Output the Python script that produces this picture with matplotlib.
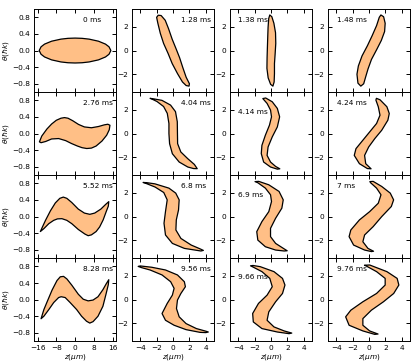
import matplotlib
matplotlib.use("Agg")
import matplotlib.pyplot as plt

# panel labels, row by row
times = [["0 ms", "1.28 ms", "1.38 ms", "1.48 ms"],
         ["2.76 ms", "4.04 ms", "4.14 ms", "4.24 ms"],
         ["5.52 ms", "6.8 ms", "6.9 ms", "7 ms"],
         ["8.28 ms", "9.56 ms", "9.66 ms", "9.76 ms"]]

# outlines (z in um, theta in hbar k), closed loops
z_000 = [-15.3, -14.5, -13, -10, -6, -3, 0, 3, 6, 10, 13, 14.5, 15.3,
         14.5, 13, 10, 6, 3, 0, -3, -6, -10, -13, -14.5]
t_000 = [0, 0.09, 0.155, 0.225, 0.275, 0.294, 0.3, 0.294, 0.275, 0.225, 0.155, 0.09, 0,
         -0.09, -0.155, -0.225, -0.275, -0.294, -0.3, -0.294, -0.275, -0.225, -0.155, -0.09]

z_276 = [-15.2, -14.2, -12, -10, -8, -6, -4.5, -3, -1, 1.5, 4, 7, 10, 12.5, 14, 14.9,
         14.6, 13.5, 11.5, 9, 7, 5, 3, 1, -1.5, -4, -7, -10, -12.5, -14.5]
t_276 = [-0.2, -0.06, 0.11, 0.23, 0.32, 0.37, 0.385, 0.37, 0.31, 0.22, 0.16, 0.14, 0.17, 0.21, 0.225, 0.2,
         0.09, -0.04, -0.18, -0.3, -0.35, -0.36, -0.34, -0.3, -0.24, -0.17, -0.12, -0.13, -0.19, -0.22]

z_552 = [-14.8, -14, -12.6, -10.5, -8.4, -6.5, -5, -3.5, -1.4, 1.4, 4, 6.3, 8.4, 11, 13, 14.4,
         14.2, 13.3, 12, 10.5, 9, 7, 5.6, 4.2, 1.4, -1.4, -3.5, -5.6, -7.5, -9.1, -11.2, -13.3]
t_552 = [-0.36, -0.26, -0.09, 0.14, 0.33, 0.44, 0.47, 0.44, 0.34, 0.18, 0.085, 0.055, 0.085, 0.18, 0.29, 0.36,
         0.25, 0.12, -0.08, -0.25, -0.36, -0.44, -0.46, -0.42, -0.31, -0.17, -0.09, -0.05, -0.055, -0.09, -0.17, -0.29]

z_828 = [-14.5, -13.3, -11.9, -9.8, -7.7, -6.3, -4.9, -3.5, -1.4, 1.4, 3.5, 5.6, 7.7, 9.8, 11.9, 13.3, 14.4,
         14.2, 13.3, 11.9, 9.8, 7.7, 6.3, 4.9, 2.8, 0.7, -2.1, -4.2, -5.9, -7, -9.1, -11.2, -13.3]
t_828 = [-0.46, -0.24, -0.05, 0.23, 0.46, 0.55, 0.56, 0.5, 0.35, 0.13, 0.01, -0.03, -0.01, 0.07, 0.24, 0.38, 0.48,
         0.36, 0.15, -0.16, -0.4, -0.53, -0.565, -0.52, -0.4, -0.24, -0.07, 0.05, 0.07, 0.05, -0.07, -0.24, -0.4]

z_128 = [-1.8, -1.45, -0.95, -0.55, -0.1, 0.4, 0.8, 1.2, 1.6, 2.0, 1.95,
         1.6, 1.15, 0.55, -0.1, -0.6, -1.15, -1.55, -1.85, -2.0]
t_128 = [2.98, 2.95, 2.55, 1.85, 0.95, 0.1, -0.6, -1.45, -2.25, -2.8, -3.0,
         -2.95, -2.65, -1.95, -1.1, -0.25, 0.6, 1.45, 2.3, 2.8]

z_138 = [-0.15, 0.1, 0.35, 0.55, 0.58, 0.5, 0.42, 0.42, 0.38, 0.23,
         -0.05, -0.35, -0.5, -0.48, -0.44, -0.4, -0.36, -0.28]
t_138 = [3.0, 2.85, 2.3, 1.5, 0.6, -0.3, -1.1, -1.95, -2.65, -3.0,
         -2.85, -2.3, -1.5, -0.6, 0.3, 1.15, 1.95, 2.7]

z_148 = [1.45, 1.78, 1.97, 1.9, 1.5, 0.95, 0.3, -0.12, -0.42, -0.65, -1.0,
         -1.35, -1.47, -1.3, -0.85, -0.2, 0.38, 0.92, 1.25]
t_148 = [3.0, 2.85, 2.3, 1.6, 0.85, 0.1, -0.75, -1.55, -2.25, -2.8, -3.0,
         -2.75, -2.0, -1.3, -0.45, 0.4, 1.25, 2.1, 2.8]

z_404 = [-2.8, -2.3, -1.35, -0.3, 0.3, 0.52, 0.54, 0.56, 0.95, 1.8, 2.6, 2.95,
         2.5, 1.8, 0.75, -0.08, -0.42, -0.5, -0.5, -0.7, -1.15, -1.95, -2.6]
t_404 = [2.97, 2.92, 2.8, 2.4, 1.85, 1.0, 0.0, -0.85, -1.55, -2.12, -2.6, -2.96,
         -2.95, -2.82, -2.4, -1.7, -0.85, 0.0, 0.85, 1.7, 2.28, 2.7, 2.92]

z_414 = [-1.0, -0.65, 0.15, 0.77, 1.05, 0.77, 0.15, -0.36, -0.48, -0.06, 0.56, 1.07,
         0.77, -0.06, -0.9, -1.19, -1.11, -0.69, -0.19, 0.06, -0.06, -0.48]
t_414 = [2.95, 3.0, 2.68, 2.12, 1.41, 0.56, -0.28, -1.13, -1.84, -2.4, -2.77, -2.97,
         -3.0, -2.82, -2.4, -1.69, -0.99, -0.14, 0.71, 1.41, 1.98, 2.54]

z_424 = [0.9, 1.34, 2.18, 2.47, 2.3, 1.55, 0.71, -0.04, -0.54, -0.4, 0.25,
         -0.2, -1.17, -1.8, -1.59, -0.75, 0.08, 0.92, 1.34, 1.13, 0.84]
t_424 = [2.97, 2.85, 2.26, 1.69, 1.13, 0.28, -0.42, -1.13, -1.84, -2.54, -2.97,
         -2.95, -2.54, -1.84, -1.27, -0.56, 0.14, 0.85, 1.55, 2.26, 2.82]

z_680 = [-3.65, -3.2, -2.2, -0.5, 0.33, 0.75, 0.67, 0.4, 0.35, 0.96, 2.22, 3.3, 3.7,
         3.4, 1.38, -0.08, -0.92, -1.1, -0.92, -0.71, -1.13, -2.18, -3.3]
t_680 = [2.88, 2.86, 2.76, 2.4, 1.98, 1.41, 0.56, -0.28, -1.13, -1.84, -2.4, -2.72, -2.85,
         -2.9, -2.68, -2.26, -1.55, -0.56, 0.42, 1.41, 2.03, 2.49, 2.8]

z_690 = [-1.95, -1.5, -0.27, 0.98, 1.49, 1.32, 0.56, -0.06, -0.06, 0.56, 1.6, 1.97,
         1.6, 0.56, -0.69, -1.61, -1.74, -1.11, -0.27, 0.06, -0.06, -0.69, -1.6]
t_690 = [2.95, 2.97, 2.68, 2.12, 1.41, 0.71, -0.14, -0.99, -1.69, -2.26, -2.72, -2.88,
         -2.9, -2.82, -2.54, -1.98, -1.27, -0.42, 0.42, 1.27, 1.84, 2.4, 2.85]

z_700 = [0.1, 0.5, 1.55, 2.59, 3.0, 2.72, 1.55, 0.5, -0.54, -0.75, -0.13, 0.55,
         0.3, -0.54, -1.88, -2.43, -2.22, -1.17, 0.08, 1.13, 1.46, 0.92, 0.2]
t_700 = [2.95, 2.97, 2.54, 1.98, 1.41, 0.85, 0.0, -0.85, -1.55, -2.12, -2.68, -2.92,
         -2.95, -2.82, -2.4, -1.69, -1.13, -0.28, 0.42, 1.13, 1.84, 2.4, 2.85]

z_956 = [-4.25, -4.0, -2.6, -0.92, 0.54, 1.38, 1.51, 0.96, 0.54, 0.42, 0.75, 1.59, 2.85, 4.0, 4.3,
         4.0, 3.3, 1.59, 0.13, -0.92, -1.34, -0.71, -0.08, 0.13, -0.29, -1.34, -2.8, -3.85]
t_956 = [2.8, 2.84, 2.73, 2.5, 2.08, 1.51, 1.09, 0.52, -0.04, -0.75, -1.45, -2.02, -2.44, -2.66, -2.73,
         -2.78, -2.76, -2.53, -2.16, -1.74, -1.17, -0.32, 0.38, 0.95, 1.51, 2.08, 2.5, 2.7]

z_966 = [-2.5, -2.2, -1.32, 0.36, 1.4, 1.7, 1.4, 0.56, -0.27, -0.48, 0.36, 1.61, 2.53,
         2.2, 0.77, -1.11, -2.16, -2.24, -1.53, -0.48, 0.15, -0.15, -1.11, -2.2]
t_966 = [2.85, 2.88, 2.78, 2.36, 1.79, 1.23, 0.52, -0.18, -1.03, -1.74, -2.3, -2.64, -2.82,
         -2.87, -2.73, -2.44, -1.88, -1.17, -0.32, 0.38, 1.09, 1.79, 2.36, 2.75]

z_976 = [-0.55, 0.08, 2.18, 3.43, 3.64, 3.01, 1.76, 0.29, -0.75, -0.75, 0.08, 1.1,
         0.7, -0.75, -2.43, -2.85, -2.22, -0.75, 0.92, 1.97, 1.97, 0.92, -0.3]
t_976 = [2.9, 2.92, 2.36, 1.79, 1.23, 0.52, -0.18, -0.89, -1.6, -2.16, -2.64, -2.9,
         -2.93, -2.64, -2.16, -1.45, -0.89, -0.18, 0.52, 1.23, 1.79, 2.36, 2.82]

shapes = [[(z_000, t_000), (z_128, t_128), (z_138, t_138), (z_148, t_148)],
          [(z_276, t_276), (z_404, t_404), (z_414, t_414), (z_424, t_424)],
          [(z_552, t_552), (z_680, t_680), (z_690, t_690), (z_700, t_700)],
          [(z_828, t_828), (z_956, t_956), (z_966, t_966), (z_976, t_976)]]

# where each time label starts (axes fraction, left aligned)
label_x = [0.60, 0.60, 0.10, 0.11]
label_y = [[0.87, 0.87, 0.87, 0.87],
           [0.87, 0.87, 0.76, 0.87],
           [0.87, 0.87, 0.76, 0.87],
           [0.87, 0.87, 0.77, 0.87]]

fs = 5.3

fig, axes = plt.subplots(4, 4, figsize=(4.15, 3.61), dpi=100)
fig.subplots_adjust(left=0.082, right=0.988, top=0.975, bottom=0.055, hspace=0, wspace=0.195)

for r in range(4):
    for c in range(4):
        ax = axes[r, c]
        z, th = shapes[r][c]
        ax.fill(z, th, facecolor="#ffbf86", edgecolor="black", linewidth=0.9, joinstyle="round")
        ax.text(label_x[c], label_y[r][c], times[r][c], transform=ax.transAxes,
                ha="left", va="center", fontsize=fs)

        if c == 0:
            ax.set_xlim(-17.5, 17.5)
            ax.set_ylim(-1, 1)
            ax.set_xticks([-16, -8, 0, 8, 16])
            ax.set_yticks([-0.8, -0.4, 0, 0.4, 0.8])
            ax.set_ylabel(r"$\theta(\hbar k)$", fontsize=fs, labelpad=1)
        else:
            ax.set_xlim(-5, 5)
            ax.set_ylim(-3.5, 3.5)
            ax.set_xticks([-4, -2, 0, 2, 4])
            ax.set_yticks([-2, 0, 2])

        for s in ax.spines.values():
            s.set_linewidth(0.7)
        ax.tick_params(direction="in", top=True, right=True, length=3, width=0.7,
                       labelsize=fs, pad=2.5)
        if r < 3:
            ax.tick_params(labelbottom=False)
        else:
            ax.set_xlabel(r"$z(\mu m)$", fontsize=fs, labelpad=1)

plt.savefig("out.png", dpi=100)
